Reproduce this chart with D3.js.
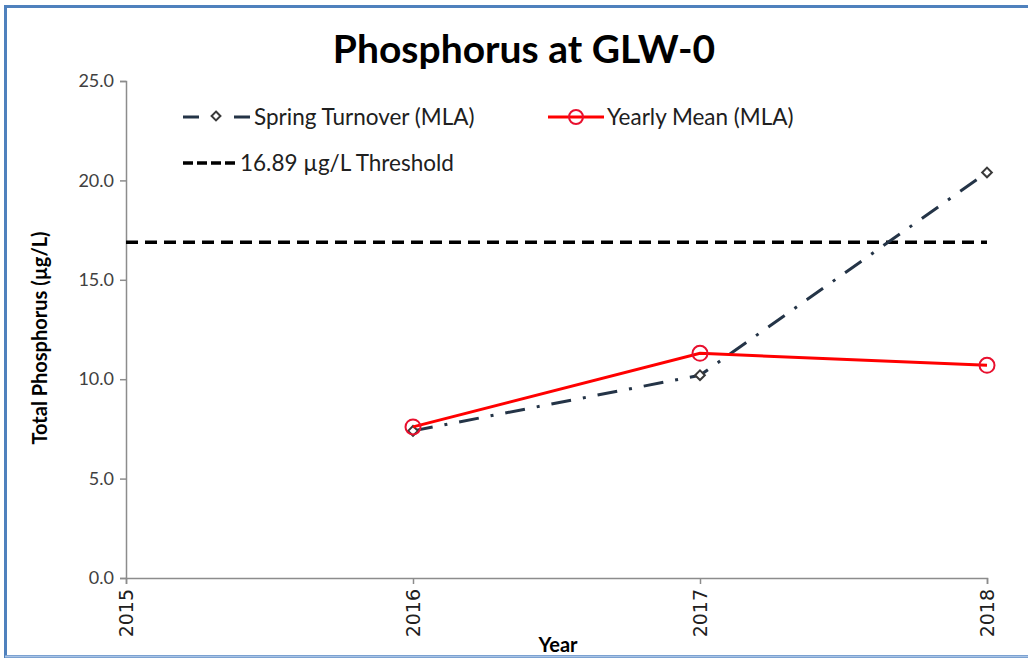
<!DOCTYPE html>
<html>
<head>
<meta charset="utf-8">
<script src="https://cdn.jsdelivr.net/npm/d3@7"></script>
<style>
    body { margin: 0; background: #fff; }
    svg { display: block; }
    .axis path, .axis line { stroke: #8c8c8c; stroke-width: 1.5; }
</style>
</head>
<body>
<div id="chart"></div>
<script>
// chart values
let years = [2016, 2017, 2018];
let springTurnover = [7.4, 10.2, 20.4];
let yearlyMean = [7.6, 11.3, 10.7];
let thresholdValue = 16.89;
let xTicks = [2015, 2016, 2017, 2018];
let yTicks = [0, 5, 10, 15, 20, 25];

let width = 1028, height = 660;
let margin = {top: 81, right: 41, bottom: 82, left: 126};

let svg = d3.select("#chart").append("svg")
    .attr("width", width)
    .attr("height", height);

// frame
svg.append("rect")
    .attr("x", 5.5).attr("y", 6.5)
    .attr("width", 1040).attr("height", 650)
    .attr("fill", "#fff")
    .attr("stroke", "#4f81bd")
    .attr("stroke-width", 3);
svg.append("line")
    .attr("x1", 5).attr("x2", width)
    .attr("y1", 656.5).attr("y2", 656.5)
    .attr("stroke", "#a9c4e6").attr("stroke-width", 2);

let xScale = d3.scaleLinear()
    .domain([2015, 2018])
    .range([margin.left, width - margin.right]);
let yScale = d3.scaleLinear()
    .domain([0, 25])
    .range([height - margin.bottom, margin.top]);

// axes
let yAxis = d3.axisLeft(yScale)
    .tickValues(yTicks)
    .tickFormat(d3.format(".1f"))
    .tickSize(6)
    .tickPadding(6);
let xAxis = d3.axisBottom(xScale)
    .tickValues(xTicks)
    .tickFormat(d3.format("d"))
    .tickSize(6);

svg.append("g")
    .attr("class", "axis y-axis")
    .attr("transform", `translate(${margin.left},0)`)
    .call(yAxis)
    .call(g => g.selectAll("text")
        .style("font-family", "Lato, sans-serif")
        .style("font-size", "18px")
        .attr("fill", "#404040"));

svg.append("g")
    .attr("class", "axis x-axis")
    .attr("transform", `translate(0,${height - margin.bottom})`)
    .call(xAxis)
    .call(g => g.selectAll("text")
        .style("font-family", "'DejaVu Sans', sans-serif")
        .style("font-size", "19px")
        .attr("fill", "#202020")
        .attr("text-anchor", "end")
        .attr("dy", "0.35em")
        .attr("transform", "translate(0,9) rotate(-90)")
        .attr("x", -2)
        .attr("y", 0));

// threshold
svg.append("line")
    .attr("x1", xScale(2015)).attr("x2", xScale(2018))
    .attr("y1", yScale(thresholdValue)).attr("y2", yScale(thresholdValue))
    .attr("stroke", "#000")
    .attr("stroke-width", 3.5)
    .attr("stroke-dasharray", "12,7");

let springData = years.map((y, i) => ({year: y, value: springTurnover[i]}));
let meanData = years.map((y, i) => ({year: y, value: yearlyMean[i]}));

let line = d3.line()
    .x(d => xScale(d.year))
    .y(d => yScale(d.value));

// spring turnover series
svg.append("path")
    .datum(springData)
    .attr("d", line)
    .attr("fill", "none")
    .attr("stroke", "#243447")
    .attr("stroke-width", 3)
    .attr("stroke-dasharray", "20,12,3,12");
svg.selectAll(".spring-pt")
    .data(springData)
    .enter().append("path")
    .attr("class", "spring-pt")
    .attr("d", d3.symbol().type(d3.symbolDiamond2).size(60))
    .attr("transform", d => `translate(${xScale(d.year)},${yScale(d.value)})`)
    .attr("fill", "#fff")
    .attr("stroke", "#3a3a3a")
    .attr("stroke-width", 2);

// yearly mean series
svg.append("path")
    .datum(meanData)
    .attr("d", line)
    .attr("fill", "none")
    .attr("stroke", "#ff0000")
    .attr("stroke-width", 3);
svg.selectAll(".mean-pt")
    .data(meanData)
    .enter().append("circle")
    .attr("class", "mean-pt")
    .attr("cx", d => xScale(d.year))
    .attr("cy", d => yScale(d.value))
    .attr("r", 7.5)
    .attr("fill", "none")
    .attr("stroke", "#e8102e")
    .attr("stroke-width", 2);

// legend
let legend = svg.append("g")
    .style("font-family", "Lato, sans-serif")
    .style("font-size", "22.5px")
    .attr("fill", "#202020");

legend.append("line")
    .attr("x1", 183).attr("x2", 250).attr("y1", 117).attr("y2", 117)
    .attr("stroke", "#243447").attr("stroke-width", 3)
    .attr("stroke-dasharray", "16,35,16");
legend.append("path")
    .attr("d", d3.symbol().type(d3.symbolDiamond2).size(50))
    .attr("transform", "translate(216,116)")
    .attr("fill", "#fff").attr("stroke", "#3a3a3a").attr("stroke-width", 2);
legend.append("text")
    .attr("x", 254).attr("y", 117).attr("dy", "0.35em")
    .text("Spring Turnover (MLA)");

legend.append("line")
    .attr("x1", 548).attr("x2", 604).attr("y1", 117).attr("y2", 117)
    .attr("stroke", "#ff0000").attr("stroke-width", 3);
legend.append("circle")
    .attr("cx", 576).attr("cy", 117).attr("r", 7)
    .attr("fill", "none").attr("stroke", "#e8102e").attr("stroke-width", 2);
legend.append("text")
    .attr("x", 607).attr("y", 117).attr("dy", "0.35em")
    .text("Yearly Mean (MLA)");

legend.append("line")
    .attr("x1", 183).attr("x2", 236).attr("y1", 163).attr("y2", 163)
    .attr("stroke", "#000").attr("stroke-width", 3.5)
    .attr("stroke-dasharray", "10,4");
legend.append("text")
    .attr("x", 240).attr("y", 163).attr("dy", "0.35em")
    .text("16.89 µg/L Threshold");

// titles
svg.append("text")
    .attr("x", 524).attr("y", 63)
    .attr("text-anchor", "middle")
    .style("font-family", "Lato, sans-serif")
    .style("font-weight", "bold")
    .style("font-size", "39px")
    .text("Phosphorus at GLW-0");

svg.append("text")
    .attr("transform", "translate(47,338) rotate(-90)")
    .attr("text-anchor", "middle")
    .style("font-family", "Lato, sans-serif")
    .style("font-weight", "bold")
    .style("font-size", "20px")
    .text("Total Phosphorus (µg/L)");

svg.append("text")
    .attr("x", 558).attr("y", 652)
    .attr("text-anchor", "middle")
    .style("font-family", "Lato, sans-serif")
    .style("font-weight", "bold")
    .style("font-size", "20px")
    .text("Year");
</script>
</body>
</html>
